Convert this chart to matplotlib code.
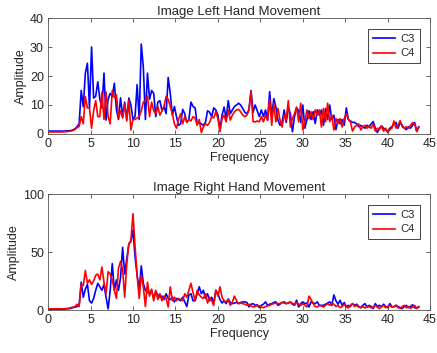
import numpy as np
import matplotlib
matplotlib.use('Agg')
import matplotlib.pyplot as plt

plt.rcParams['font.family'] = ['Liberation Sans', 'DejaVu Sans']

# frequency bin width of the spectrum (Hz)
df = 0.244

# left hand movement, channel C3 / C4
c3_left = [1.0, 1.0, 1.0, 1.0, 1.0, 1.0, 1.0, 1.0, 1.0, 1.1, 1.1, 1.2, 1.4, 1.8, 2.5, 3.5,
           15, 9.4, 21, 24.4, 9, 30, 12.4, 13, 18, 12, 9, 21, 4.8, 12, 14, 13, 17.5, 8.5, 5,
           12.5, 6, 11, 5, 12.4, 10, 5, 6, 17, 5, 31, 23, 5, 21,
           12, 15, 14, 6, 11, 11.5, 8, 9.5, 7, 19.5, 14, 6.5, 9.5, 6, 3, 3.5, 8.5, 7, 4, 5,
           11, 9.5, 9, 3.5, 4, 3.5, 3, 4, 8, 7.5, 6, 9,
           8.3, 6.5, 1.5, 6.5, 9.3, 5.3, 11.5, 7, 8.3, 9.5, 10, 10.6, 10, 8.8, 7.5, 7, 8.3,
           15, 7.5, 10, 8, 6, 8.3, 6, 8.3, 4.8, 14.6, 6, 12.2, 9.3, 4.8, 3, 4, 8.3, 4, 9.3,
           7, 0.8, 6, 9, 8, 4, 10, 2, 5, 8, 5, 7.7, 3.6, 8.3, 6.5, 8.3, 3, 8.8, 5, 10, 5, 6.5,
           1.5, 5, 3.5, 5, 3, 9, 5, 4.5, 4, 4, 3.5, 2.5,
           3, 2.5, 2, 3, 2.5, 3.5, 4.3, 2, 0.5, 2, 2.8, 2, 1.5, 0.8, 2, 2.5, 3.5, 4, 2, 4, 3,
           2, 1.5, 2.5, 2, 3, 4, 1, 2.5]
c4_left = [0.7, 0.7, 0.7, 0.7, 0.7, 0.7, 0.7, 0.7, 0.8, 0.8, 0.9, 1.0, 1.2, 1.6, 2.2, 2.6,
           6, 3.5, 12.9, 9, 9, 2, 8, 11.5, 6, 6, 14.5, 5, 14.5, 6, 3.5, 15, 12.5, 13.5, 5.5,
           8, 5.5, 10.5, 4.5, 11.5, 1.4, 5, 5, 5.5, 6, 8, 11, 11.5, 13,
           6, 11, 8, 7, 9.5, 6.5, 8, 9.5, 13, 12, 9.5, 7, 3.5, 2, 5, 7, 3.5, 6, 4, 5, 4.5, 6,
           5.5, 3, 5, 0.5, 2.5, 3.5, 3, 4, 6, 5.5,
           7.7, 5.3, 0.8, 5.3, 6.5, 4.2, 8.3, 4.8, 6.5, 7.7, 8.3, 8.5, 7.7, 6.5, 6, 6.5, 8.3,
           14.6, 4.2, 4.2, 4.5, 4.2, 6, 4.2, 6.5, 4.8, 12, 3, 10.6, 4.2, 8.8, 4.8, 2.4, 6.5,
           4.8, 11.5,
           2.4, 5.3, 7, 9.3, 4.2, 10.6, 1.4, 4.2, 8.3, 5.3, 7.7, 5, 8.3, 6.5, 8.3, 2.4, 8.8,
           4.2, 10.6, 4.2, 6.5, 1.4, 5.3, 3.6, 5.3, 2.4, 5.3, 7, 5, 4.2, 1, 2.4, 3, 3.5,
           1.4, 2.5, 3, 2, 2.5, 2, 3.5, 1, 2, 1.5, 2.8, 1, 2, 0.5, 1.5, 2, 4.5, 2, 3, 4.6,
           2.5, 2, 2.5, 2, 3, 3.9, 3.5, 0.8, 2.3]

# right hand movement, channel C3 / C4
c3_right = [0.7, 0.7, 0.7, 0.7, 0.7, 0.7, 0.7, 0.7, 0.8, 1, 1.2, 1.5, 2, 2.5,
            3, 4, 24, 11, 18, 22, 8, 6, 10, 17, 23, 20, 17, 22, 11, 1, 17, 40, 17, 26, 17,
            28, 54, 31, 44, 57, 59, 69, 46, 30, 17, 38, 23, 17, 15,
            15, 17, 10, 16, 13, 11, 12, 9, 14, 10, 9, 11, 7, 10, 9, 8, 11, 7, 3, 13,
            14, 8, 8, 14, 20, 14, 17, 10, 14, 8, 11, 6, 17, 14, 9,
            6, 8, 5.5, 9.5, 6.5, 5.5, 6, 6.5, 5.5, 6.5, 7, 7, 6.5, 2.6, 5, 5.5, 4, 4.5, 2, 4,
            5, 7, 4, 5, 5.5, 6.5, 7, 4, 5, 6.5, 7, 5.5, 6, 7, 5, 4, 8.5, 2.6, 5.5, 7, 5.5, 6,
            2.6, 7, 6, 5.5, 7, 4, 4, 4,
            5, 6, 7, 4, 13, 8, 5, 8.4, 4, 6.5, 3, 4, 3, 5.5, 4, 5, 3, 2, 4, 5.5,
            2.6, 4, 3, 1.2, 5.5, 3, 4.1, 2.6, 5, 3, 2, 5.5, 3, 2.6, 4, 3, 2, 1.2, 3, 4,
            2, 3, 4.5, 2, 1.5, 3]
c4_right = [1, 1, 1, 1, 1, 1, 1, 1, 1, 1.2, 1.5, 2, 2.5, 3,
            5, 3, 22, 21, 34, 23, 26, 22, 25, 30, 31, 26, 37, 24, 14, 33, 31, 26, 17, 10, 36,
            42, 35, 11, 40, 57, 60, 83, 55, 30, 10, 30, 20, 3, 24,
            12, 18, 8, 17, 9, 14, 8, 12, 10, 2.6, 20, 8, 11, 8, 10, 9, 8, 14, 11, 17,
            23, 15, 8, 17, 13, 11, 10, 14, 6, 11, 8, 4, 17, 12, 20,
            11, 8, 7, 9, 4, 7, 12, 8, 5.5, 6, 5.5, 5, 4, 5, 3.5, 2.6, 3, 4, 3.5, 2.5, 2, 3,
            3.5, 4, 5, 5.5, 6, 5.5, 5.5, 6.5, 6, 5.5, 6, 7, 5.5, 5, 6.5, 5, 4, 5.5, 4, 2.6,
            12, 9, 5.5, 3, 2.6, 4, 3.5, 2.6,
            4, 5.5, 4, 6, 5, 3, 4, 2, 3, 5, 2.5, 1.8, 4, 5.5, 3, 4, 2.5, 2, 3, 1.8,
            2.5, 3, 2, 2.6, 4, 2.5, 1.2, 3, 4, 2, 3, 4, 2.5, 3, 4.1, 2, 1.5, 3, 4, 1.8,
            3, 1.5, 2.5, 4, 1.2, 2.5]

freq = np.arange(len(c3_left)) * df

txt = '#262626'
plt.rcParams['font.size'] = 9
plt.rcParams['text.color'] = txt
plt.rcParams['axes.labelcolor'] = txt
plt.rcParams['xtick.color'] = txt
plt.rcParams['ytick.color'] = txt

fig = plt.figure(figsize=(4.37, 3.53), dpi=100)
ax1 = fig.add_axes([0.110, 0.6204, 0.874, 0.3286])
ax2 = fig.add_axes([0.110, 0.1218, 0.874, 0.3286])

panels = [(ax1, c3_left, c4_left, 'Image Left Hand Movement', [0, 10, 20, 30, 40]),
          (ax2, c3_right, c4_right, 'Image Right Hand Movement', [0, 50, 100])]

for ax, c3, c4, title, yt in panels:
    ax.plot(freq, c3, color='b', lw=1.2, label='C3')
    ax.plot(freq, c4, color='r', lw=1.2, label='C4')
    ax.set_xlim(0, 45)
    ax.set_ylim(yt[0], yt[-1])
    ax.set_xticks(range(0, 46, 5))
    ax.set_yticks(yt)
    ax.tick_params(direction='in', length=3, width=0.5, top=True, right=True,
                   labelsize=9, pad=3)
    for s in ax.spines.values():
        s.set_color('#555555')
        s.set_linewidth(0.6)
    ax.set_title(title, fontsize=9.5, pad=2)
    ax.set_xlabel('Frequency', fontsize=9, labelpad=1)
    ax.set_ylabel('Amplitude', fontsize=9, labelpad=2)
    leg = ax.legend(loc='upper right', bbox_to_anchor=(0.974, 0.905), borderaxespad=0,
                    fancybox=False, framealpha=1, edgecolor=txt, fontsize=8,
                    handlelength=2.0, handletextpad=0.5, borderpad=0.45,
                    labelspacing=0.4)
    leg.get_frame().set_linewidth(0.6)

fig.savefig('out.png', dpi=100)
